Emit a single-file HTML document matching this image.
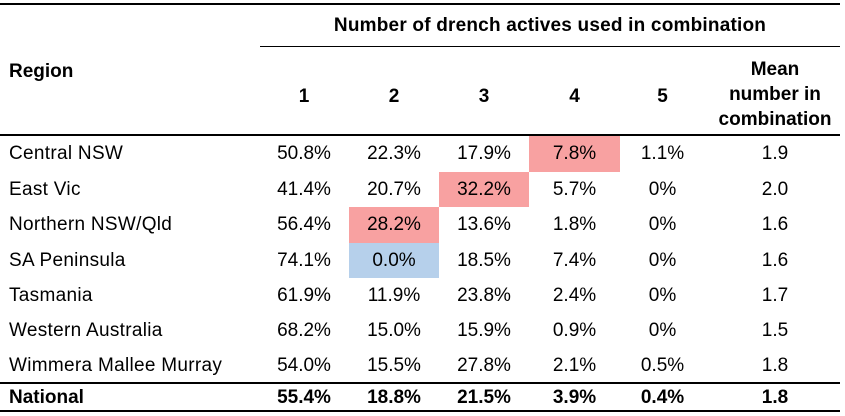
<!DOCTYPE html>
<html><head><meta charset="utf-8">
<style>
body{margin:0;background:#fff;width:845px;height:416px;overflow:hidden;position:relative;font-family:"Liberation Sans",sans-serif;color:#000}
.a{position:absolute}
.line{position:absolute;background:#000}
.t{position:absolute;font-size:19px;line-height:20px;white-space:nowrap}
.b{font-weight:bold}
</style></head><body>
<div class="line" style="left:0;top:3px;width:840px;height:2px"></div>
<div class="t b" style="left:260px;width:580px;top:16px;text-align:center;letter-spacing:0.2px">Number of drench actives used in combination</div>
<div class="line" style="left:260px;top:46px;width:580px;height:1px"></div>
<div class="t b" style="left:9px;top:62px">Region</div>
<div id="hdr"></div>
<div class="t b" style="left:705px;width:140px;top:57px;text-align:center;line-height:25px">Mean<br>number in<br>combination</div>
<div class="line" style="left:0;top:134px;width:840px;height:2px"></div>
<div id="body"></div>
<div class="line" style="left:0;top:382px;width:840px;height:2px"></div>
<div class="line" style="left:0;top:410px;width:840px;height:2px"></div>
<script>
const regions=["Central NSW","East Vic","Northern NSW/Qld","SA Peninsula","Tasmania","Western Australia","Wimmera Mallee Murray","National"];
const colHeads=["1","2","3","4","5"];
const values=[
["50.8%","22.3%","17.9%","7.8%","1.1%"],
["41.4%","20.7%","32.2%","5.7%","0%"],
["56.4%","28.2%","13.6%","1.8%","0%"],
["74.1%","0.0%","18.5%","7.4%","0%"],
["61.9%","11.9%","23.8%","2.4%","0%"],
["68.2%","15.0%","15.9%","0.9%","0%"],
["54.0%","15.5%","27.8%","2.1%","0.5%"],
["55.4%","18.8%","21.5%","3.9%","0.4%"]];
const means=["1.9","2.0","1.6","1.6","1.7","1.5","1.8","1.8"];
const highlights=[[0,3,"#f8a1a1"],[1,2,"#f8a1a1"],[2,1,"#f8a1a1"],[3,1,"#b6d0eb"]];
const colL=[259,349,439,529,620];
const colW=[90,90,90,91,85];
const rowTop=[136,172,207,243,278,313,348,384];
const rowH=[36,35,36,35,35,35,34,26];
const hdr=document.getElementById('hdr');
colHeads.forEach((h,i)=>{const d=document.createElement('div');


d.className='t b';d.style.left=colL[i]+'px';d.style.width=colW[i]+'px';d.style.textAlign='center';d.style.top='87px';d.textContent=h;hdr.appendChild(d);});
const body=document.getElementById('body');
highlights.forEach(([r,c,col])=>{const d=document.createElement('div');


d.className='a';d.style.left=colL[c]+'px';d.style.width=colW[c]+'px';d.style.top=rowTop[r]+'px';d.style.height=rowH[r]+'px';d.style.background=col;body.appendChild(d);});
regions.forEach((r,i)=>{const bold=i===7;const ty=rowTop[i]+(i===7?4:8);
let d=document.createElement('div');


d.className='t'+(bold?' b':'');d.style.left='9px';d.style.top=ty+'px';d.style.letterSpacing=bold?'0':'0.3px';d.textContent=r;body.appendChild(d);
values[i].forEach((v,c)=>{const e=document.createElement('div');


e.className='t'+(bold?' b':'');e.style.left=colL[c]+'px';e.style.width=colW[c]+'px';e.style.textAlign='center';e.style.top=ty+'px';e.textContent=v;body.appendChild(e);});
const m=document.createElement('div');


m.className='t'+(bold?' b':'');m.style.left='705px';m.style.width='140px';m.style.textAlign='center';m.style.top=ty+'px';m.textContent=means[i];body.appendChild(m);});
</script>
</body></html>
